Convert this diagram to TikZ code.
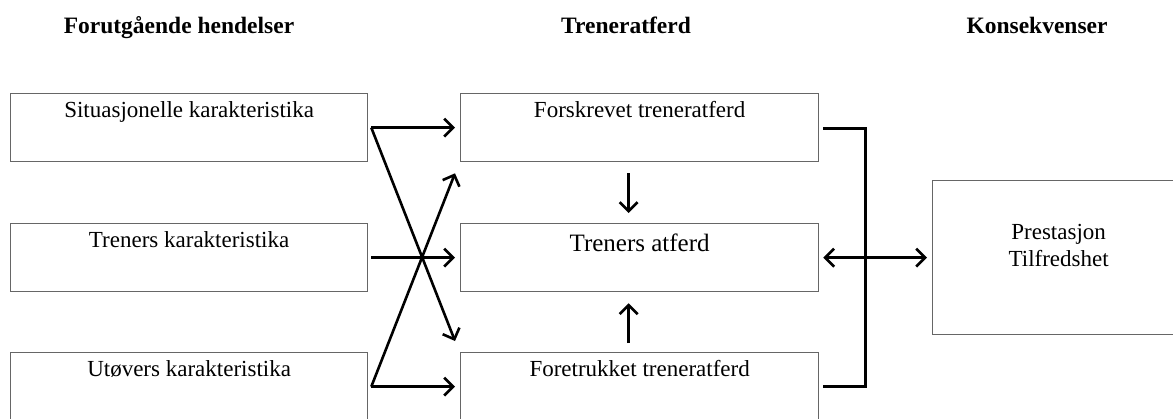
\documentclass[tikz,border=0pt]{standalone}
\usepackage{fontspec}
\setmainfont{Liberation Serif}
\usetikzlibrary{arrows.meta}
\tikzset{
  box/.style={draw=black!60, line width=1.3pt, rectangle, inner sep=0pt, anchor=north west},
  boxtext/.style={anchor=base, inner sep=0pt, font=\fontsize{23}{27}\selectfont},
  heading/.style={anchor=base, inner sep=0pt, font=\fontsize{23.5}{28}\selectfont\bfseries},
  flow/.style={line width=2.6pt, -{Straight Barb[length=9pt,width=18pt]}},
  twoway/.style={line width=2.6pt, {Straight Barb[length=9pt,width=18pt]}-{Straight Barb[length=9pt,width=18pt]}},
  bracket/.style={line width=2.6pt}
}
\begin{document}
\begin{tikzpicture}[x=1pt,y=-1pt]
\clip (0,0) rectangle (1173,418);
\fill[white] (0,0) rectangle (1173,418);

% column headings
\node[heading] (h1) at (179,33) {Forutgående hendelser};
\node[heading] (h2) at (626,33) {Treneratferd};
\node[heading] (h3) at (1037,33) {Konsekvenser};

% antecedents
\node[box, minimum width=357pt, minimum height=68pt] (sit) at (10,93) {};
\node[box, minimum width=357pt, minimum height=68pt] (tren) at (10,223) {};
\node[box, minimum width=357pt, minimum height=68pt] (utov) at (10,352) {};
\node[boxtext] (sitT) at ([yshift=-24pt]sit.north) {Situasjonelle karakteristika};
\node[boxtext] (trenT) at ([yshift=-24pt]tren.north) {Treners karakteristika};
\node[boxtext] (utovT) at ([yshift=-24pt]utov.north) {Utøvers karakteristika};

% coach behaviour
\node[box, minimum width=358pt, minimum height=68pt] (fors) at (460,93) {};
\node[box, minimum width=358pt, minimum height=68pt] (atf) at (460,223) {};
\node[box, minimum width=358pt, minimum height=68pt] (fore) at (460,352) {};
\node[boxtext] (forsT) at ([yshift=-24pt]fors.north) {Forskrevet treneratferd};
\node[boxtext, font=\fontsize{25}{30}\selectfont] (atfT) at ([yshift=-28pt]atf.north) {Treners atferd};
\node[boxtext] (foreT) at ([yshift=-24pt]fore.north) {Foretrukket treneratferd};

% consequences
\node[box, minimum width=252pt, minimum height=154pt] (kons) at (932,180) {};
\node[boxtext] (konsT1) at ([yshift=-59pt]kons.north) {Prestasjon};
\node[boxtext] (konsT2) at ([yshift=-86pt]kons.north) {Tilfredshet};

% antecedents to coach behaviour
\coordinate (sitO) at ([xshift=3pt]sit.east);
\coordinate (trenO) at ([xshift=3pt]tren.east);
\coordinate (utovO) at ([xshift=3pt]utov.east);
\draw[flow] (sitO) -- ([xshift=-5pt]fors.west);
\draw[flow] (sitO) -- ([xshift=-5pt,yshift=11pt]fore.north west);
\draw[flow] (trenO) -- ([xshift=-5pt]atf.west);
\draw[flow] (utovO) -- ([xshift=-5pt]fore.west);
\draw[flow] (utovO) -- ([xshift=-5pt,yshift=-11pt]fors.south west);

% required and preferred to actual behaviour
\draw[flow] ([xshift=-11pt,yshift=-11pt]fors.south) -- ([xshift=-11pt,yshift=10pt]atf.north);
\draw[flow] ([xshift=-11pt,yshift=9pt]fore.north) -- ([xshift=-11pt,yshift=-11pt]atf.south);

% bracket joining the three behaviours
\coordinate (b1) at ([xshift=4pt,yshift=-1pt]fors.east);
\coordinate (b2) at ([xshift=46pt,yshift=-1pt]fors.east);
\coordinate (b3) at ([xshift=4pt]fore.east);
\coordinate (b4) at ([xshift=46pt]fore.east);
\draw[bracket] (b1) -- (b2) -- (b4) -- (b3);

% behaviour and consequences
\draw[twoway] ([xshift=4pt]atf.east) -- ([xshift=-5pt]kons.west |- atf.east);
\end{tikzpicture}
\end{document}
